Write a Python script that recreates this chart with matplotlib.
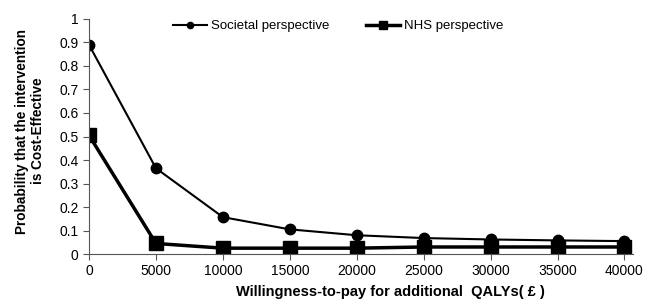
import matplotlib
matplotlib.use('Agg')
import matplotlib.pyplot as plt

plt.rcParams['font.family'] = ['Liberation Sans', 'DejaVu Sans']

wtp = [0, 5000, 10000, 15000, 20000, 25000, 30000, 35000, 40000]
societal = [0.89, 0.365, 0.157, 0.105, 0.08, 0.068, 0.062, 0.058, 0.055]
nhs = [0.505, 0.045, 0.025, 0.025, 0.025, 0.03, 0.03, 0.03, 0.03]

fig = plt.figure(figsize=(6.47, 3.01), dpi=100)
ax = fig.add_axes([0.1376, 0.156, 0.84, 0.781])

ax.plot(wtp, societal, color='black', lw=1.5, marker='o', ms=7.5, label='Societal perspective')
ax.plot(wtp, nhs, color='black', lw=2.5, marker='s', ms=10, label='NHS perspective')

ax.set_xlim(0, 40600)
ax.set_ylim(0, 1)
ax.set_xticks(wtp)
ax.set_yticks([i / 10 for i in range(11)])
ax.set_yticklabels(['0', '0.1', '0.2', '0.3', '0.4', '0.5', '0.6', '0.7', '0.8', '0.9', '1'])
ax.tick_params(labelsize=10, direction='out', length=4, color='#555555')
for s in ['top', 'right']:
    ax.spines[s].set_visible(False)
for s in ['left', 'bottom']:
    ax.spines[s].set_color('#555555')

ax.set_xlabel('Willingness-to-pay for additional  QALYs( £ )', fontsize=10.5, fontweight='bold', labelpad=5)
ax.xaxis.label.set_x(0.555)
ax.set_ylabel('Probability that the intervention\nis Cost-Effective', fontsize=9.8, fontweight='bold', labelpad=10)
ax.yaxis.label.set_y(0.523)

leg = ax.legend(loc='upper center', bbox_to_anchor=(0.458, 1.045), ncol=2, frameon=False,
                fontsize=9.5, markerscale=0.6, handlelength=2.6, handletextpad=0.3,
                columnspacing=2.75)

fig.savefig('out.png', dpi=100)
